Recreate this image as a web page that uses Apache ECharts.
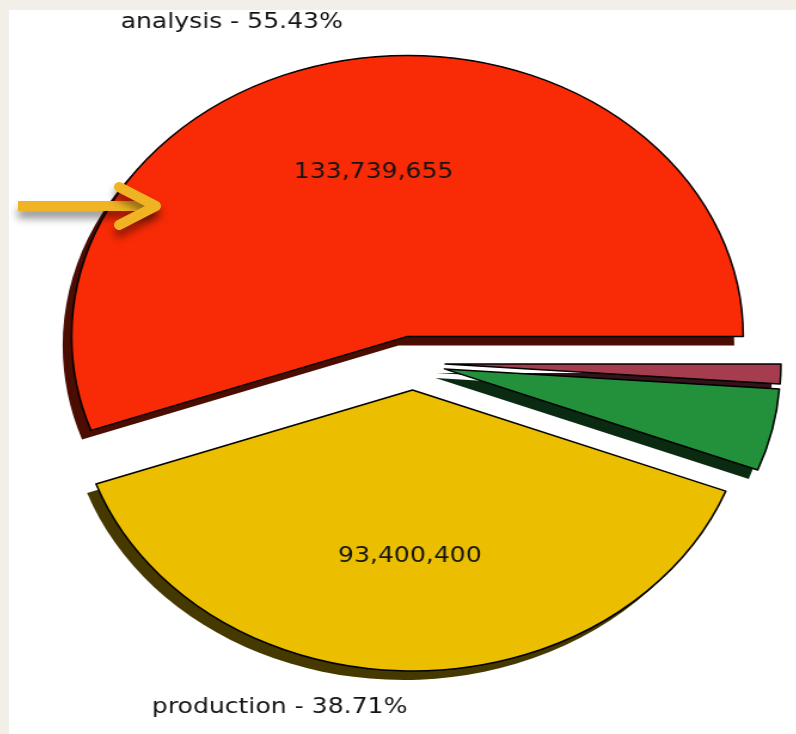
<!DOCTYPE html>
<html>
<head>
<meta charset="utf-8">
<script src="https://cdn.jsdelivr.net/npm/echarts@6/dist/echarts.min.js"></script>
<style>
  html, body { margin: 0; padding: 0; width: 796px; height: 734px; overflow: hidden; background: #f2efe8; }
  #panel { position: absolute; left: 9px; top: 10px; width: 787px; height: 724px; background: #ffffff; overflow: hidden; }
  #chart { position: absolute; left: 0; top: 0; width: 656px; height: 724px; transform: scaleX(1.195); transform-origin: 0 0; }
  #overlay { position: absolute; left: 0; top: 0; width: 796px; height: 734px; pointer-events: none; }
</style>
</head>
<body>
<div id="panel"><div id="chart"></div></div>
<div id="overlay"></div>
<script>
// ---- data ----
const categories = ['analysis', 'production', 'slice 3', 'slice 4'];
const values = [133739655, 93400400, 11400000, 2736945];
const sliceColors = ['#f92b06', '#ebbf00', '#23913b', '#a63d4f'];
const shadowColors = ['#4b0d02', '#463900', '#0a2b12', '#32131a'];
const showNameLabel = [true, true, false, false];
const showValueLabel = [true, true, false, false];

// ---- layout ----
const CX = 338, CY = 353, R = 281, EXPLODE = 27;
const FONT = 'DejaVu Sans';

function fmt(v) { return v.toLocaleString('en-US'); }

const shadowData = categories.map((c, i) => ({
  name: c, value: values[i], selected: true,
  itemStyle: { color: shadowColors[i] }
}));
const mainData = categories.map((c, i) => ({
  name: c, value: values[i], selected: true,
  itemStyle: { color: sliceColors[i] },
  label: { show: showNameLabel[i] }
}));
const valueData = categories.map((c, i) => ({
  name: c, value: values[i], selected: true,
  label: { show: showValueLabel[i] }
}));

const common = {
  type: 'pie',
  clockwise: false,
  startAngle: 0,
  selectedMode: 'multiple',
  selectedOffset: EXPLODE,
  silent: true,
  animation: false,
  avoidLabelOverlap: false,
  percentPrecision: 2,
  emphasis: { disabled: true, scale: false },
  select: { disabled: false }
};

const chart = echarts.init(document.getElementById('chart'), null, { renderer: 'canvas' });
chart.setOption({
  animation: false,
  series: [
    Object.assign({}, common, {
      name: 'shadow',
      center: [CX - 7.5, CY + 9],
      radius: R,
      z: 1,
      label: { show: false },
      labelLine: { show: false },
      itemStyle: { borderWidth: 0 },
      data: shadowData
    }),
    Object.assign({}, common, {
      name: 'main',
      center: [CX, CY],
      radius: R,
      z: 2,
      itemStyle: { borderColor: '#000000', borderWidth: 1.5 },
      label: {
        position: 'outside',
        formatter: '{b} - {d}%',
        fontFamily: FONT,
        fontSize: 21,
        color: '#141414',
        distanceToLabelLine: 0
      },
      labelLine: { show: false, length: 37, length2: 0 },
      data: mainData
    }),
    Object.assign({}, common, {
      name: 'values',
      center: [CX, CY],
      radius: 2 * 0.6 * R - 10,
      z: 3,
      itemStyle: { color: 'rgba(0,0,0,0)', borderWidth: 0 },
      label: {
        position: 'inside',
        formatter: p => fmt(p.value),
        fontFamily: FONT,
        fontSize: 21,
        color: '#141414'
      },
      labelLine: { show: false },
      data: valueData
    })
  ]
});

// ---- arrow annotation (unstretched overlay) ----
const overlay = echarts.init(document.getElementById('overlay'), null, { renderer: 'canvas' });
const arrowStyle = {
  stroke: '#f0b323', lineWidth: 10, fill: null,
  shadowBlur: 9, shadowColor: 'rgba(0,0,0,0.45)', shadowOffsetX: 0, shadowOffsetY: 7
};
overlay.setOption({
  animation: false,
  graphic: [
    { type: 'line', shape: { x1: 18, y1: 206, x2: 152, y2: 206 },
      style: Object.assign({}, arrowStyle, { lineCap: 'butt' }) },
    { type: 'polyline', shape: { points: [[119, 187], [156, 206], [119, 225]] },
      style: Object.assign({}, arrowStyle, { lineCap: 'round', lineJoin: 'round' }) }
  ]
});
</script>
</body>
</html>
